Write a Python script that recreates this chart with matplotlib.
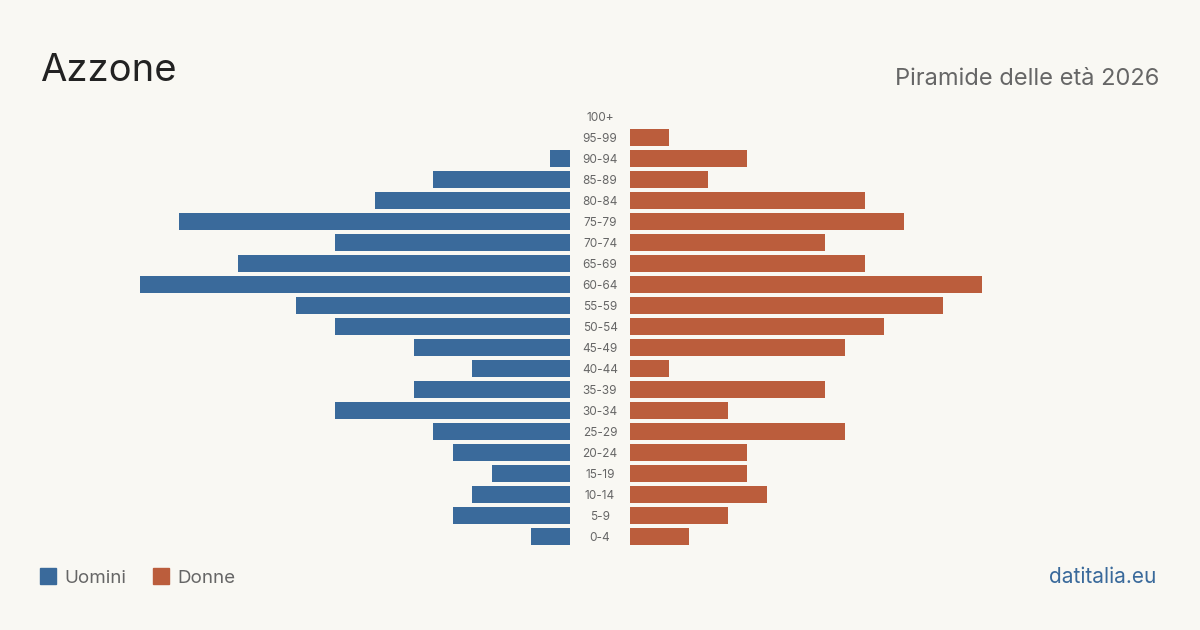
import matplotlib
matplotlib.use("Agg")
import matplotlib.pyplot as plt
import matplotlib.transforms as mtransforms

plt.rcParams['font.family'] = ['Inter', 'DejaVu Sans']

# Dati: classi di età (dal basso verso l'alto)
classi = ['0-4', '5-9', '10-14', '15-19', '20-24', '25-29', '30-34', '35-39',
          '40-44', '45-49', '50-54', '55-59', '60-64', '65-69', '70-74',
          '75-79', '80-84', '85-89', '90-94', '95-99', '100+']
uomini = [2, 6, 5, 4, 6, 7, 12, 8, 5, 8, 12, 14, 22, 17, 12, 20, 10, 7, 1, 0, 0]
donne = [3, 5, 7, 6, 6, 11, 5, 10, 2, 11, 13, 16, 18, 12, 10, 14, 12, 4, 6, 2, 0]

blu = '#3a6a9b'
arancio = '#bb5d3c'
sfondo = '#f9f8f3'
grigio = '#666666'

W, H = 1200, 630
fig = plt.figure(figsize=(12, 6.3), dpi=100, facecolor=sfondo)

top_px, bot_px = 106, 547
ax_l = fig.add_axes([140 / W, 1 - bot_px / H, 430 / W, (bot_px - top_px) / H])
ax_r = fig.add_axes([630 / W, 1 - bot_px / H, 430 / W, (bot_px - top_px) / H])

y = list(range(len(classi)))
ax_l.barh(y, [-v for v in uomini], height=0.81, color=blu)
ax_r.barh(y, donne, height=0.81, color=arancio)

ax_l.set_xlim(-22, 0)
ax_r.set_xlim(0, 22)
for ax in (ax_l, ax_r):
    ax.set_ylim(-0.5, len(classi) - 0.5)
    ax.axis('off')
    ax.set_facecolor('none')

# etichette centrali
trans = mtransforms.blended_transform_factory(fig.transFigure, ax_r.transData)
for i, c in enumerate(classi):
    ax_r.text(600 / W, i, c, transform=trans, ha='center',
              va='center_baseline', fontsize=8.5, color=grigio)

# titoli
fig.text(40 / W, 1 - 81 / H, 'Azzone', fontsize=27.5, color='#222222',
         ha='left', va='baseline')
fig.text(1159 / W, 1 - 85 / H, 'Piramide delle età 2026', fontsize=17,
         color=grigio, ha='right', va='baseline')

# legenda
fig.patches.append(plt.Rectangle((40 / W, 1 - 584 / H), 16 / W, 16 / H,
                                 transform=fig.transFigure, color=blu))
fig.text(64 / W, 1 - 583 / H, 'Uomini', fontsize=13.5, color=grigio,
         ha='left', va='baseline')
fig.patches.append(plt.Rectangle((153 / W, 1 - 584 / H), 16 / W, 16 / H,
                                 transform=fig.transFigure, color=arancio))
fig.text(177 / W, 1 - 583 / H, 'Donne', fontsize=13.5, color=grigio,
         ha='left', va='baseline')

fig.text(1156 / W, 1 - 583 / H, 'datitalia.eu', fontsize=15, color=blu,
         ha='right', va='baseline')

fig.savefig('out.png', dpi=100, facecolor=sfondo)
